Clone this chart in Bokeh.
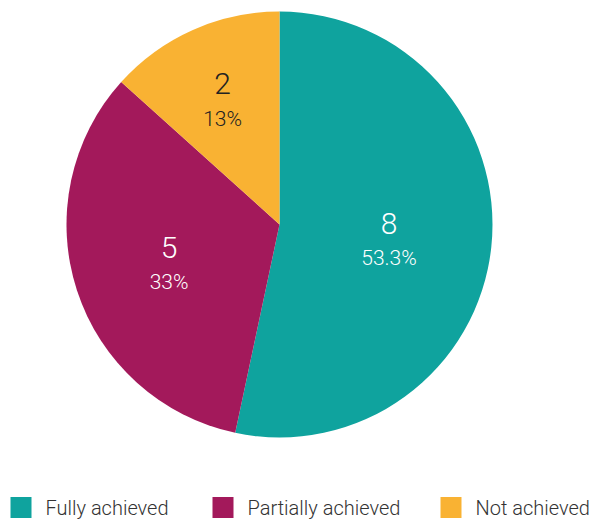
import math
from bokeh.plotting import figure
from bokeh.models import Range1d
from bokeh.core.properties import value
from bokeh.embed import file_html
from bokeh.resources import INLINE

categories = ["Fully achieved", "Partially achieved", "Not achieved"]
counts = [8, 5, 2]
pct_labels = ["53.3%", "33%", "13%"]
colors = ["#0FA39E", "#A3195B", "#F9B233"]
label_colors = ["#FFFFFF", "#FFFFFF", "#222222"]

W, H = 590, 519
p = figure(width=W, height=H, output_backend="svg", toolbar_location=None,
           x_range=Range1d(0, W), y_range=Range1d(0, H), min_border=0)
p.axis.visible = False
p.grid.visible = False
p.outline_line_color = None

cx, cy, R = 279, 295, 213
total = sum(counts)
FONT = value("Roboto Light")

cum = 0.0
for i, c in enumerate(counts):
    share = c / total
    a0 = math.pi / 2 - 2 * math.pi * cum
    a1 = math.pi / 2 - 2 * math.pi * (cum + share)
    p.wedge(x=[cx], y=[cy], radius=R, start_angle=a0, end_angle=a1,
            direction="clock", fill_color=colors[i], line_color=None)
    mid = (a0 + a1) / 2
    rl = R * (0.47 + 0.025 / share)
    lx = cx + rl * math.cos(mid)
    ly = cy + rl * math.sin(mid) - 4
    p.text(x=[lx], y=[ly + 17], text=[str(c)], text_align="center",
           text_baseline="middle", text_font=FONT, text_font_size="30px",
           text_color=label_colors[i])
    p.text(x=[lx], y=[ly - 18], text=[pct_labels[i]], text_align="center",
           text_baseline="middle", text_font=FONT, text_font_size="21px",
           text_color=label_colors[i])
    cum += share

# legend
leg_x = [10, 212, 440]
leg_y = 12
for i, name in enumerate(categories):
    p.rect(x=[leg_x[i] + 10.5], y=[leg_y], width=21, height=21,
           fill_color=colors[i], line_color=None)
    p.text(x=[leg_x[i] + 35], y=[leg_y], text=[name], text_align="left",
           text_baseline="middle", text_font=FONT, text_font_size="20px",
           text_color="#333333")

open("out.html", "w").write(file_html(p, INLINE))
